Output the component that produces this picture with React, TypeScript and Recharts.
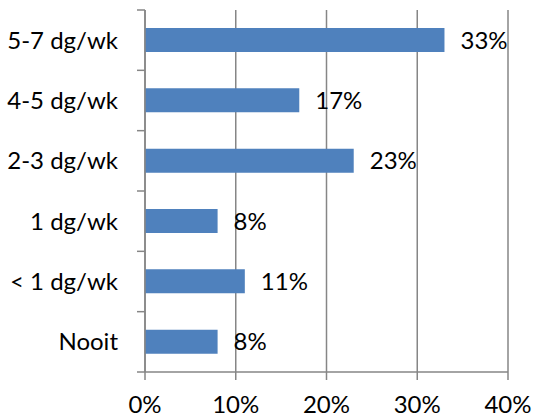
import { BarChart, Bar, XAxis, YAxis, CartesianGrid, LabelList } from "recharts";

const categories = ["5-7 dg/wk", "4-5 dg/wk", "2-3 dg/wk", "1 dg/wk", "< 1 dg/wk", "Nooit"];
const shares = [33, 17, 23, 8, 11, 8];
const xTicks = [0, 10, 20, 30, 40];

const data = categories.map((name, i) => ({ name, value: shares[i] }));

const FONT = "Lato, 'Open Sans', sans-serif";
const FS = 24;
const GRID = "#868686";
const TOP = 10;
const PLOT_H = 362;
const AXIS_X = 145;

// category labels plus Excel-style tick marks on the band boundaries
function CategoryTick(props: any) {
  const { x, y, payload, index } = props;
  const band = PLOT_H / categories.length;
  const top = y - band / 2;
  return (
    <g>
      <line x1={AXIS_X - 8} x2={AXIS_X} y1={top} y2={top} stroke={GRID} strokeWidth={1.5} />
      {index === categories.length - 1 && (
        <line x1={AXIS_X - 8} x2={AXIS_X} y1={top + band} y2={top + band} stroke={GRID} strokeWidth={1.5} />
      )}
      <text x={x} y={y} dy="0.36em" textAnchor="end" fill="#000" fontSize={FS} fontFamily={FONT}>
        {payload.value}
      </text>
    </g>
  );
}

export default function App() {
  return (
    <div style={{ position: "absolute", left: 0, top: 0, background: "#fff" }}>
      <BarChart
        width={535}
        height={417}
        data={data}
        layout="vertical"
        margin={{ top: TOP, right: 27, bottom: 0, left: 0 }}
      >
        <CartesianGrid horizontal={false} stroke={GRID} strokeWidth={1.5} />
        <XAxis
          type="number"
          domain={[0, 40]}
          ticks={xTicks}
          tickFormatter={(v: number) => `${v}%`}
          height={45}
          tickSize={8}
          tickMargin={16}
          axisLine={{ stroke: GRID, strokeWidth: 1.5 }}
          tickLine={{ stroke: GRID, strokeWidth: 1.5 }}
          tick={{ fontSize: FS, fill: "#000", fontFamily: FONT }}
        />
        <YAxis
          type="category"
          dataKey="name"
          width={AXIS_X}
          tickSize={0}
          tickMargin={27}
          axisLine={{ stroke: GRID, strokeWidth: 1.5 }}
          tickLine={false}
          tick={<CategoryTick />}
          interval={0}
        />
        <Bar dataKey="value" fill="#4F81BD" barSize={24} isAnimationActive={false}>
          <LabelList
            dataKey="value"
            position="right"
            offset={16}
            formatter={(v: any) => `${v}%`}
            style={{ fontSize: FS, fill: "#000", fontFamily: FONT }}
          />
        </Bar>
      </BarChart>
    </div>
  );
}
